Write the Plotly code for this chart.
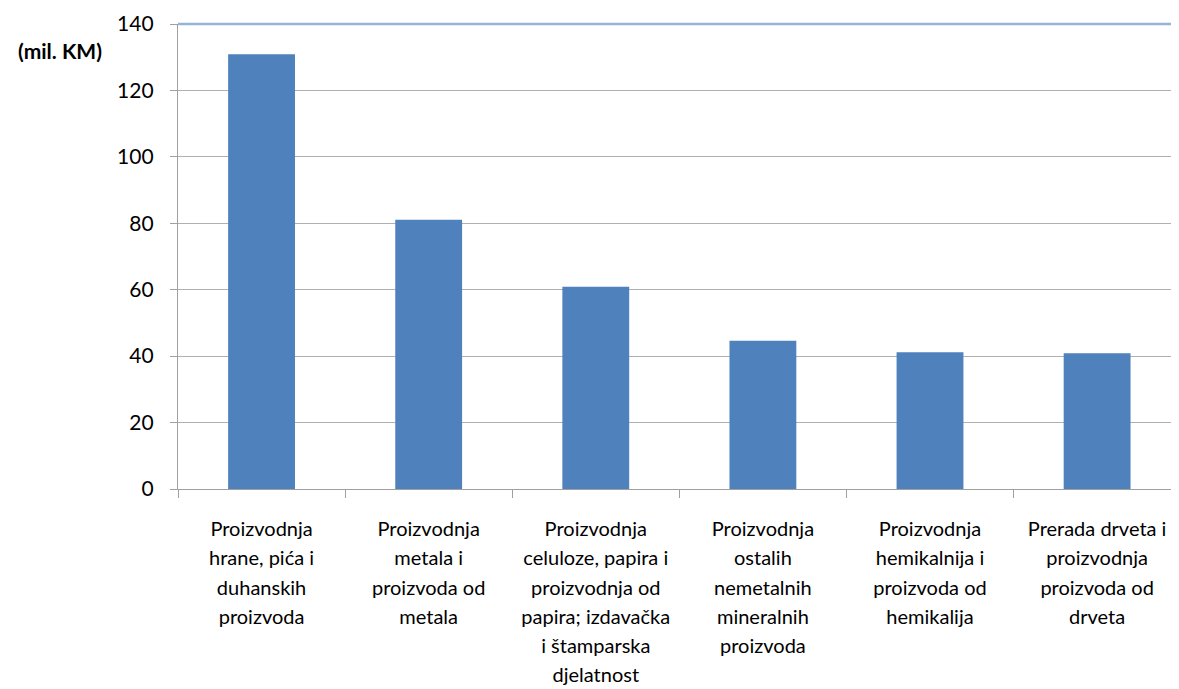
import plotly.graph_objects as go

categories = ["hrana", "metali", "celuloza", "nemetali", "hemikalije", "drvo"]
tick_labels = [
    "Proizvodnja<br>hrane, pića i<br>duhanskih<br>proizvoda",
    "Proizvodnja<br>metala i<br>proizvoda od<br>metala",
    "Proizvodnja<br>celuloze, papira i<br>proizvodnja od<br>papira; izdavačka<br>i štamparska<br>djelatnost",
    "Proizvodnja<br>ostalih<br>nemetalnih<br>mineralnih<br>proizvoda",
    "Proizvodnja<br>hemikalnija i<br>proizvoda od<br>hemikalija",
    "Prerada drveta i<br>proizvodnja<br>proizvoda od<br>drveta",
]
values = [130.9, 81.1, 60.9, 44.6, 41.2, 40.9]
y_ticks = [0, 20, 40, 60, 80, 100, 120, 140]
unit_label = "(mil. KM)"

FONT = "Lato"
INNER = 20

def styled(t):
    return "<br>".join(f"<span style='font-size:{INNER}px'>{p}</span>" for p in t.split("<br>"))

fig = go.Figure(
    go.Bar(x=categories, y=values, marker=dict(color="#4f81bd", line=dict(width=0)))
)

fig.update_layout(
    width=1171, height=681,
    margin=dict(l=170, r=0, t=16, b=200, autoexpand=False),
    paper_bgcolor="white", plot_bgcolor="white",
    bargap=0.6, showlegend=False,
    font=dict(family=FONT, color="#000000"),
)
fig.update_xaxes(
    type="category", range=[-0.5, 5.49], automargin=False,
    tickmode="array", tickvals=categories, ticktext=[styled(t) for t in tick_labels],
    tickson="boundaries", ticks="outside", ticklen=8, tickcolor="#a0a0a0", tickwidth=1.3,
    showline=True, linecolor="#a0a0a0", linewidth=1.3,
    showgrid=False, tickfont=dict(size=22.5, family=FONT, color="#000"),
    ticklabelstandoff=19, tickangle=0,
)
fig.update_yaxes(
    range=[0, 140], tickmode="array", tickvals=y_ticks, automargin=False,
    ticks="outside", ticklen=7, tickcolor="#a0a0a0", tickwidth=1.3,
    showline=True, linecolor="#a0a0a0", linewidth=1.3,
    showgrid=True, gridcolor="#b0b0b0", gridwidth=1.3,
    zeroline=False, tickfont=dict(size=21, family=FONT, color="#000"),
    ticklabelstandoff=12,
)
fig.add_shape(type="line", xref="paper", yref="paper", x0=0, x1=1, y0=1, y1=1,
              line=dict(color="#95b3d7", width=2.5))
fig.add_annotation(text=f"<b>{unit_label}</b>", xref="paper", yref="paper", x=0, y=1,
                   xanchor="right", yanchor="middle", xshift=-74, yshift=-26,
                   showarrow=False, font=dict(size=21, family=FONT, color="#000"))

fig.write_html("out.html")
